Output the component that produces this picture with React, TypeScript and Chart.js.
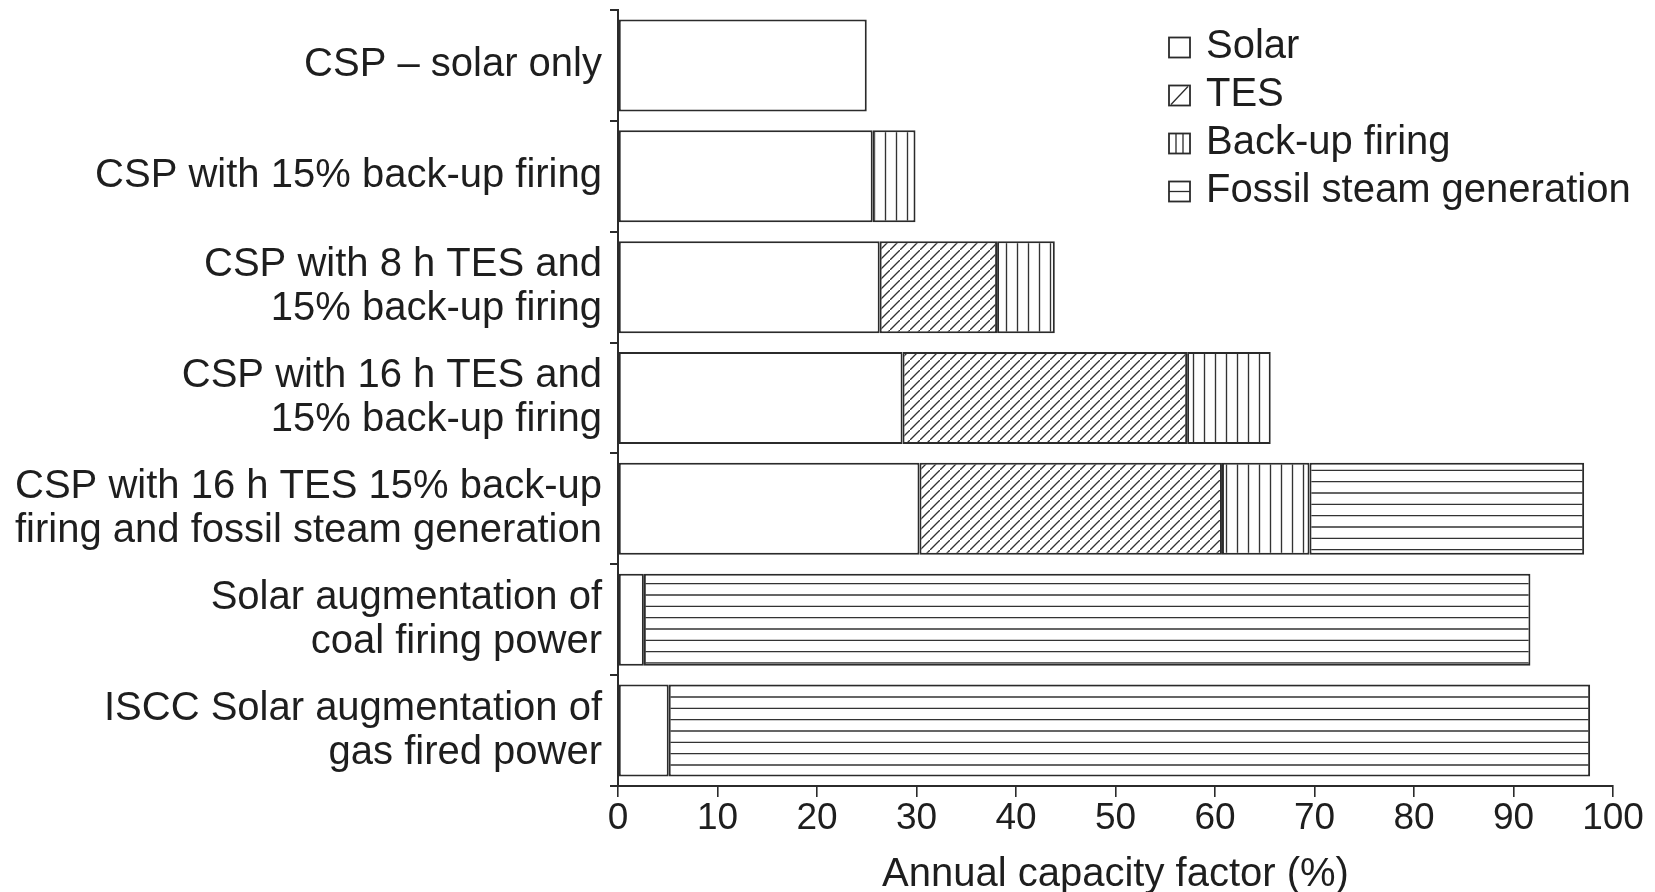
import React, { useEffect, useRef } from "react";
import { Chart, registerables } from "chart.js";

Chart.register(...registerables);

// ---------- data ----------
const categories: string[][] = [
  ["CSP – solar only"],
  ["CSP with 15% back-up firing"],
  ["CSP with 8 h TES and", "15% back-up firing"],
  ["CSP with 16 h TES and", "15% back-up firing"],
  ["CSP with 16 h TES 15% back-up", "firing and fossil steam generation"],
  ["Solar augmentation of", "coal firing power"],
  ["ISCC Solar augmentation of", "gas fired power"],
];

const seriesNames = ["Solar", "TES", "Back-up firing", "Fossil steam generation"];

const solar: (number | null)[] = [25.0, 25.6, 26.3, 28.6, 30.3, 2.6, 5.1];
const tes: (number | null)[] = [null, null, 11.8, 28.6, 30.4, null, null];
const backup: (number | null)[] = [null, 4.3, 5.8, 8.4, 8.8, null, null];
const fossil: (number | null)[] = [null, null, null, null, 27.6, 89.1, 92.6];

const xTickValues = [0, 10, 20, 30, 40, 50, 60, 70, 80, 90, 100];
const xTitle = "Annual capacity factor (%)";

// ---------- styles ----------
const FONT = '"Liberation Sans", Arial, Helvetica, sans-serif';
const INK = "#2b2b2b";
const TEXT = "#1e1e1e";
const hatchKinds = ["none", "diag", "vertical", "horizontal"];

function makePattern(kind: string): CanvasPattern | string {
  if (kind === "none") return "#ffffff";
  const c = document.createElement("canvas");
  let w = 10, h = 10;
  if (kind === "vertical") { w = 11; h = 11; }
  if (kind === "horizontal") { w = 12; h = 34; }
  c.width = w; c.height = h;
  const g = c.getContext("2d")!;
  g.fillStyle = "#ffffff";
  g.fillRect(0, 0, w, h);
  g.strokeStyle = "#333333";
  g.lineWidth = 1.35;
  g.beginPath();
  if (kind === "diag") {
    g.moveTo(-2, w + 2); g.lineTo(w + 2, -2);
    g.moveTo(-2 - w, 2); g.lineTo(2, -2);
    g.moveTo(w - 2, w + 2); g.lineTo(2 * w + 2, -2 + w);
  } else if (kind === "vertical") {
    g.moveTo(5.5, 0); g.lineTo(5.5, h);
  } else if (kind === "horizontal") {
    [5.67, 17, 28.33].forEach((y) => { g.moveTo(0, y); g.lineTo(w, y); });
  }
  g.stroke();
  return g.createPattern(c, "repeat")!;
}

const legendPlugin = {
  id: "boxLegend",
  afterDraw(chart: any) {
    const ctx: CanvasRenderingContext2D = chart.ctx;
    const area = chart.chartArea;
    const bx = area.right - 444;
    const bw = 21, bh = 20;
    ctx.save();
    chart.data.datasets.forEach((ds: any, i: number) => {
      const baseY = area.top + 47.5 + i * 48;
      const by = baseY - bh;
      ctx.fillStyle = "#ffffff";
      ctx.fillRect(bx, by, bw, bh);
      ctx.strokeStyle = INK;
      ctx.lineWidth = 1.3;
      const kind = hatchKinds[i];
      ctx.beginPath();
      if (kind === "diag") {
        ctx.moveTo(bx + 2, by + bh - 1); ctx.lineTo(bx + bw - 2, by + 1);
      } else if (kind === "vertical") {
        ctx.moveTo(bx + bw / 3, by); ctx.lineTo(bx + bw / 3, by + bh);
        ctx.moveTo(bx + (2 * bw) / 3, by); ctx.lineTo(bx + (2 * bw) / 3, by + bh);
      } else if (kind === "horizontal") {
        ctx.moveTo(bx, by + bh / 2); ctx.lineTo(bx + bw, by + bh / 2);
      }
      ctx.stroke();
      ctx.lineWidth = 1.8;
      ctx.strokeRect(bx, by, bw, bh);
      ctx.fillStyle = TEXT;
      ctx.font = `40px ${FONT}`;
      ctx.textBaseline = "alphabetic";
      ctx.textAlign = "left";
      ctx.fillText(ds.label, bx + 37, baseY);
    });
    ctx.restore();
  },
};

export default function App() {
  const ref = useRef<HTMLCanvasElement>(null);

  useEffect(() => {
    if (!ref.current) return;
    const seriesValues = [solar, tes, backup, fossil];
    const chart = new Chart(ref.current, {
      type: "bar",
      data: {
        labels: categories,
        datasets: seriesNames.map((name, i) => ({
          label: name,
          data: seriesValues[i],
          backgroundColor: makePattern(hatchKinds[i]) as any,
          borderColor: INK,
          borderWidth: 2,
          borderSkipped: false,
          barPercentage: 0.83,
          categoryPercentage: 1,
        })),
      },
      options: {
        indexAxis: "y",
        animation: false,
        responsive: true,
        maintainAspectRatio: false,
        layout: { padding: { top: 10, right: 42, bottom: 0, left: 0 } },
        plugins: {
          legend: { display: false },
          tooltip: { enabled: false },
        },
        scales: {
          x: {
            stacked: true,
            min: 0,
            max: 100,
            afterBuildTicks: (scale: any) => {
              scale.ticks = xTickValues.map((v) => ({ value: v }));
            },
            afterFit: (scale: any) => {
              scale.height = 106;
              scale.paddingLeft = 0;
              scale.paddingRight = 0;
            },
            grid: {
              drawOnChartArea: false,
              drawTicks: true,
              tickLength: 11,
              color: INK,
              lineWidth: 1.6,
            },
            border: { display: true, color: INK, width: 2 },
            ticks: {
              color: TEXT,
              font: { family: FONT, size: 37 },
              padding: 0,
              maxRotation: 0,
              autoSkip: false,
            },
            title: {
              display: true,
              text: xTitle,
              color: TEXT,
              font: { family: FONT, size: 40, lineHeight: 0.85 },
              padding: { top: 0, bottom: 0 },
            },
          },
          y: {
            stacked: true,
            afterFit: (scale: any) => {
              scale.width = 618;
              scale.paddingTop = 0;
              scale.paddingBottom = 0;
            },
            grid: {
              drawOnChartArea: false,
              drawTicks: true,
              tickLength: 8,
              color: INK,
              lineWidth: 2,
              offset: true,
            },
            border: { display: true, color: INK, width: 2 },
            ticks: {
              color: TEXT,
              font: { family: FONT, size: 40, lineHeight: 1.1 },
              padding: 8,
              autoSkip: false,
            },
          },
        },
      },
      plugins: [legendPlugin],
    });
    return () => chart.destroy();
  }, []);

  return (
    <div style={{ position: "absolute", left: 0, top: 0, width: 1655, height: 892, background: "#fff" }}>
      <canvas ref={ref} />
    </div>
  );
}
